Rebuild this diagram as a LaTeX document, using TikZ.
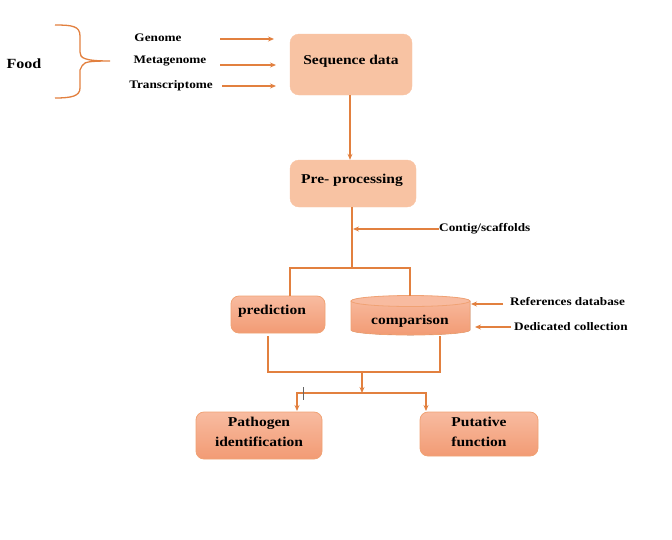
\documentclass[tikz,border=0pt]{standalone}
\usepackage{fontspec}
\setmainfont{Liberation Serif}
\newfontfamily\wfont[FakeStretch=1.15]{Liberation Serif}
\usetikzlibrary{arrows.meta}
\definecolor{lineor}{HTML}{E2803F}
\definecolor{peach}{HTML}{F8C3A3}
\definecolor{boxtop}{HTML}{F8BBA0}
\definecolor{boxbot}{HTML}{F29B74}
\definecolor{boxedge}{HTML}{F0A274}
\begin{document}
\begin{tikzpicture}[x=1pt,y=-1pt,
  conn/.style={draw=lineor,line width=1.3pt},
  arr/.style={conn,-{Stealth[length=6pt,width=5pt]}},
  lbl/.style={font=\wfont\bfseries\fontsize{11.5}{13}\selectfont,inner sep=0pt},
  bigtxt/.style={font=\wfont\bfseries\fontsize{13.5}{19.5}\selectfont,align=center},
  topbox/.style={bigtxt,draw=peach,fill=peach,rounded corners=9pt},
  lowbox/.style={bigtxt,draw=boxedge,line width=0.8pt,top color=boxtop,bottom color=boxbot,rounded corners=8pt}]
\useasboundingbox (0,0) rectangle (672,539);
% Food and brace
\node[font=\wfont\bfseries\fontsize{14}{16}\selectfont,inner sep=0pt] (food) at (24,64) {Food};
\draw[conn] (55,25) .. controls (72,25) and (80,26) .. (80,36) -- (80,52) .. controls (80,58) and (84,61) .. (110,61)
  (80,70) .. controls (84,63) and (80,61) .. (110,61)
  (80,70) -- (80,88) .. controls (80,96) and (72,98) .. (55,98);
\node[lbl] (gen) at (158,38) {Genome};
\node[lbl] (meta) at (170,61) {Metagenome};
\node[lbl] (trans) at (171,86) {Transcriptome};
\coordinate (g1) at (220,39); \coordinate (g2) at (274,39);
\coordinate (m1) at (220,65); \coordinate (m2) at (276,65);
\coordinate (t1) at (222,86); \coordinate (t2) at (276,86);
\draw[arr] (g1) -- (g2);
\draw[arr] (m1) -- (m2);
\draw[arr] (t1) -- (t2);
% Sequence data
\node[topbox,minimum width=122pt,minimum height=61pt] (seq) at (351,64.5) {};
\node[bigtxt] at (351,61) {Sequence data};
\node[topbox,minimum width=126pt,minimum height=47pt] (pre) at (353,183.5) {};
\node[bigtxt] at (352,180) {Pre- processing};
\draw[arr] (seq.south -| 350,0) -- (pre.north -| 350,0);
% contig
\coordinate (split) at (352,268);
\draw[conn] (pre.south -| 352,0) -- (split);
\node[lbl,anchor=west] (contig) at (439,229) {Contig/scaffolds};
\draw[arr] (contig.west) -- (353,229);
% prediction and comparison
\node[lowbox,minimum width=94pt,minimum height=37pt] (pred) at (278,314.5) {};
\node[bigtxt] at (272,311) {prediction};
\fill[top color=boxtop,bottom color=boxbot] (351,301) -- (351,330) arc[start angle=180,end angle=360,x radius=59.5pt,y radius=5pt] -- (470,301) arc[start angle=0,end angle=180,x radius=59.5pt,y radius=5pt];
\draw[boxedge,line width=0.8pt] (351,301) -- (351,330) arc[start angle=180,end angle=360,x radius=59.5pt,y radius=5pt] -- (470,301);
\fill[boxtop] (410.5,301) ellipse[x radius=59.5pt,y radius=5.5pt];
\draw[boxedge,line width=0.8pt] (410.5,301) ellipse[x radius=59.5pt,y radius=5.5pt];
\node[bigtxt] (comp) at (410,321) {comparison};
\draw[conn] (290,296) -- (290,268) -- (410,268) -- (410,295.5);
\node[lbl,anchor=west] (refdb) at (510,301) {References database};
\node[lbl,anchor=west] (dedc) at (514,327) {Dedicated collection};
\draw[arr] (503,304) -- (471,304);
\draw[arr] (511,327) -- (475,327);
% merge
\coordinate (merge) at (362,372);
\draw[conn] (268,336) -- (268,372) -- (440,372) -- (440,336);
\coordinate (fork) at (362,393);
\draw[arr] (merge) -- (fork);
\node[lowbox,minimum width=126pt,minimum height=47pt] (path) at (259,435.5) {};
\node[bigtxt] at (259,432) {Pathogen\\identification};
\node[lowbox,minimum width=118pt,minimum height=44pt] (put) at (479,434) {};
\node[bigtxt] at (479,432) {Putative\\function};
\draw[arr] (362,393) -- (297,393) -- (297,411);
\draw[arr] (362,393) -- (426,393) -- (426,411);
\draw[gray!80!black,line width=1pt] (303,387) -- (303,400);
\end{tikzpicture}
\end{document}
